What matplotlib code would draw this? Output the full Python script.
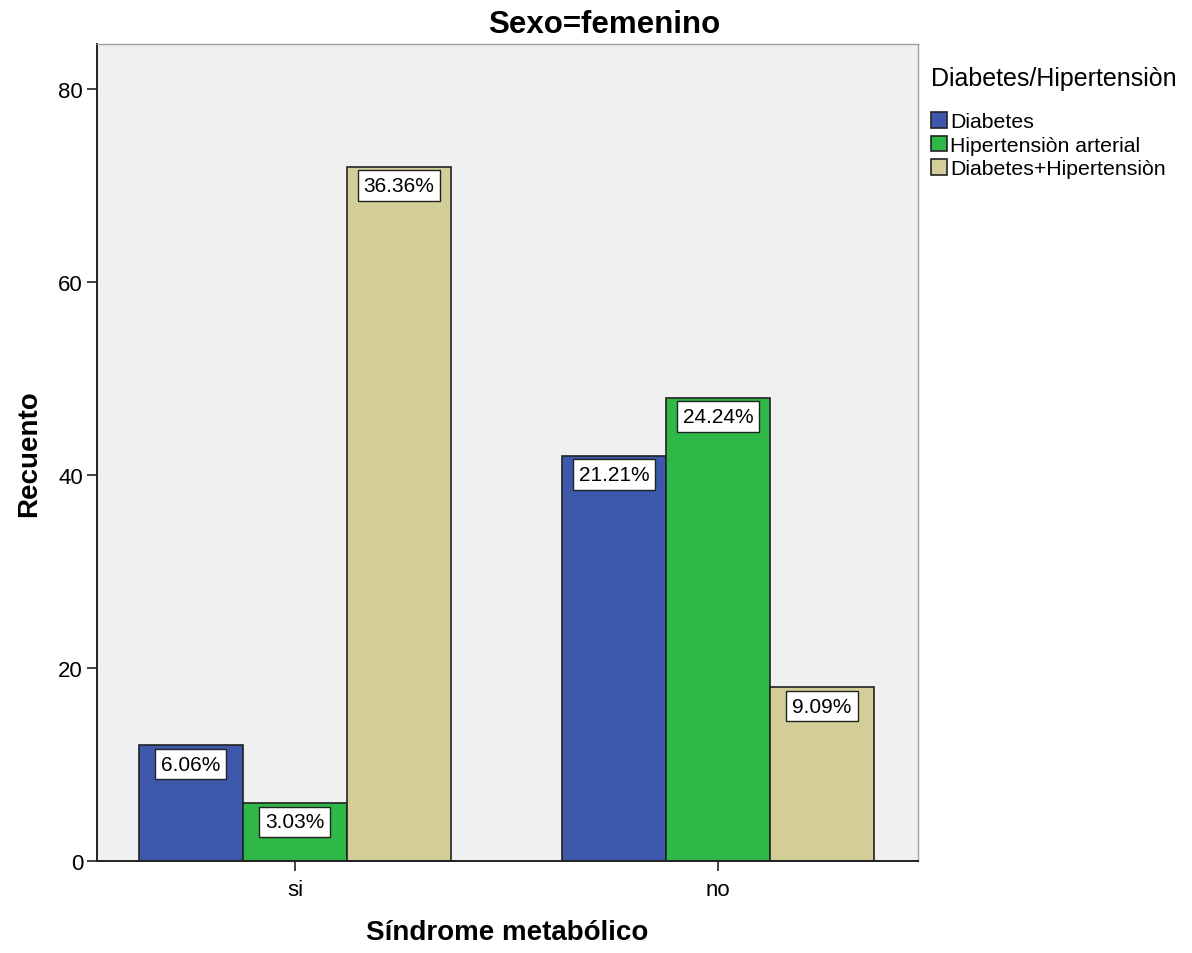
import matplotlib
matplotlib.use("Agg")
import matplotlib.pyplot as plt
import numpy as np

plt.rcParams['font.family'] = ['Liberation Sans', 'DejaVu Sans']

categories = ["si", "no"]
series_names = ["Diabetes", "Hipertensiòn arterial", "Diabetes+Hipertensiòn"]
counts = {
    "Diabetes": [12, 42],
    "Hipertensiòn arterial": [6, 48],
    "Diabetes+Hipertensiòn": [72, 18],
}
colors = ["#3E58AC", "#2EB848", "#D3CE97"]
total = sum(sum(v) for v in counts.values())

fig = plt.figure(figsize=(11.92, 9.54), dpi=100)
ax = fig.add_axes([97 / 1192, 92 / 954, 821 / 1192, 817 / 954])
ax.set_facecolor("#F0F0F0")

x = np.arange(len(categories))
width = 0.246
offsets = [-width, 0, width]
for name, color, off in zip(series_names, colors, offsets):
    vals = counts[name]
    bars = ax.bar(x + off, vals, width, color=color, edgecolor="#222222",
                  linewidth=1.2, label=name, zorder=2)
    for b, v in zip(bars, vals):
        pct = 100 * v / total
        ax.annotate(f"{pct:.2f}%", xy=(b.get_x() + b.get_width() / 2, v),
                    xytext=(0, -13.5), textcoords="offset points",
                    ha="center", va="center", fontsize=15, zorder=3,
                    bbox=dict(boxstyle="square,pad=0.28", fc="white",
                              ec="#222222", lw=1.0))

ax.set_xlim(-0.468, 1.473)
ax.set_ylim(0, 84.7)
ax.set_yticks([0, 20, 40, 60, 80])
ax.set_xticks(x)
ax.set_xticklabels(categories)
ax.tick_params(axis="both", labelsize=16, length=7, width=1.2, color="#222222")
ax.tick_params(axis="x", pad=6)
ax.tick_params(axis="y", pad=3)

for s in ["left", "bottom"]:
    ax.spines[s].set_color("#222222")
    ax.spines[s].set_linewidth(1.4)
for s in ["top", "right"]:
    ax.spines[s].set_color("#A0A0A0")
    ax.spines[s].set_linewidth(1.0)

fig.text(604 / 1192, 1 - 25 / 954, "Sexo=femenino", fontsize=22.5,
         fontweight="bold", ha="center", va="center")
ax.set_xlabel("Síndrome metabólico", fontsize=20, fontweight="bold", labelpad=14)
ax.set_ylabel("Recuento", fontsize=20, fontweight="bold", labelpad=12)

leg = ax.legend(title="Diabetes/Hipertensiòn", loc="upper left",
                bbox_to_anchor=(0.995, 0.994), frameon=False, fontsize=15.3,
                title_fontsize=18, handlelength=0.75, handleheight=0.75,
                handletextpad=0.15, labelspacing=0.2, borderaxespad=0.4)
leg._legend_box.align = "left"
leg._legend_box.sep = 16
for h in leg.legend_handles:
    h.set_edgecolor("#222222")

fig.savefig("out.png", dpi=100, facecolor="white")
